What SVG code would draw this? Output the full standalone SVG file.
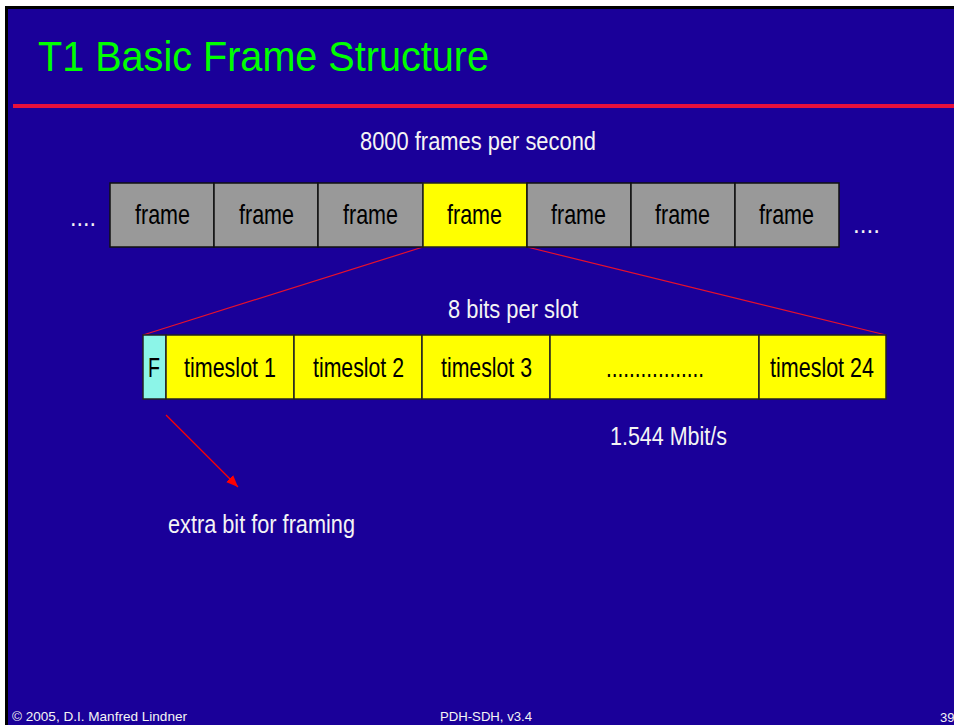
<svg xmlns="http://www.w3.org/2000/svg" width="954" height="725" viewBox="0 0 954 725">
  <style>
    text { font-family: "Liberation Sans", Arial, sans-serif; }
    .lbl { fill: #000000; font-size: 28px; }
    .wt { fill: #F4F4F4; font-size: 26px; }
    .foot { fill: #F4F4F4; font-size: 13px; }
    .gray { fill: #999999; stroke: #111111; stroke-width: 1.5; }
    .yel { fill: #FFFF00; stroke: #222222; stroke-width: 1.5; }
    .cyan { fill: #8CF5E8; stroke: #222222; stroke-width: 1.5; }
    .red { stroke: #E8102C; stroke-width: 1.2; fill: none; }
  </style>
  <defs>
    <marker id="arrowHead" viewBox="0 0 12 10" refX="12" refY="5" markerWidth="12" markerHeight="10" markerUnits="userSpaceOnUse" orient="auto">
      <path d="M0,0 L12,5 L0,10 z" fill="#FF0000"/>
    </marker>
  </defs>

  <!-- slide background -->
  <rect x="0" y="0" width="954" height="725" fill="#FFFFFF"/>
  <rect x="5" y="6" width="949" height="719" fill="#000000"/>
  <rect x="8" y="9" width="946" height="716" fill="#1A0099"/>

  <!-- title -->
  <text x="38" y="71" font-size="43" fill="#00FF00" textLength="451" lengthAdjust="spacingAndGlyphs">T1 Basic Frame Structure</text>
  <rect x="13" y="104" width="941" height="4" fill="#E8103C"/>

  <text class="wt" x="360" y="150" textLength="236" lengthAdjust="spacingAndGlyphs">8000 frames per second</text>

  <!-- connectors: zoom lines and framing-bit arrow -->
  <g id="connectors">
    <line class="red" x1="423" y1="247" x2="143" y2="335"/>
    <line class="red" x1="527" y1="247" x2="886" y2="335"/>
    <line x1="166" y1="415" x2="238" y2="487" stroke="#FF0000" stroke-width="1.2" marker-end="url(#arrowHead)"/>
  </g>

  <!-- frame sequence -->
  <g id="frames">
    <text class="wt" x="70" y="226" textLength="26" lengthAdjust="spacingAndGlyphs">....</text>
    <g id="frame1"><rect class="gray" x="110" y="183" width="104" height="64"/><text class="lbl" x="135" y="224" textLength="55" lengthAdjust="spacingAndGlyphs">frame</text></g>
    <g id="frame2"><rect class="gray" x="214" y="183" width="104" height="64"/><text class="lbl" x="239" y="224" textLength="55" lengthAdjust="spacingAndGlyphs">frame</text></g>
    <g id="frame3"><rect class="gray" x="318" y="183" width="105" height="64"/><text class="lbl" x="343" y="224" textLength="55" lengthAdjust="spacingAndGlyphs">frame</text></g>
    <g id="frame4"><rect class="yel" x="423" y="183" width="104" height="64"/><text class="lbl" x="447" y="224" textLength="55" lengthAdjust="spacingAndGlyphs">frame</text></g>
    <g id="frame5"><rect class="gray" x="527" y="183" width="104" height="64"/><text class="lbl" x="551" y="224" textLength="55" lengthAdjust="spacingAndGlyphs">frame</text></g>
    <g id="frame6"><rect class="gray" x="631" y="183" width="104" height="64"/><text class="lbl" x="655" y="224" textLength="55" lengthAdjust="spacingAndGlyphs">frame</text></g>
    <g id="frame7"><rect class="gray" x="735" y="183" width="104" height="64"/><text class="lbl" x="759" y="224" textLength="55" lengthAdjust="spacingAndGlyphs">frame</text></g>
    <text class="wt" x="853" y="233" textLength="27" lengthAdjust="spacingAndGlyphs">....</text>
  </g>

  <text class="wt" x="448" y="318" textLength="130" lengthAdjust="spacingAndGlyphs">8 bits per slot</text>

  <!-- one frame expanded into timeslots -->
  <g id="slots">
    <g id="slotF"><rect class="cyan" x="143" y="335" width="23" height="64"/><text class="lbl" x="148" y="377" textLength="12" lengthAdjust="spacingAndGlyphs">F</text></g>
    <g id="slot1"><rect class="yel" x="166" y="335" width="128" height="64"/><text class="lbl" x="184" y="377" textLength="92" lengthAdjust="spacingAndGlyphs">timeslot 1</text></g>
    <g id="slot2"><rect class="yel" x="294" y="335" width="128" height="64"/><text class="lbl" x="313" y="377" textLength="91" lengthAdjust="spacingAndGlyphs">timeslot 2</text></g>
    <g id="slot3"><rect class="yel" x="422" y="335" width="128" height="64"/><text class="lbl" x="441" y="377" textLength="91" lengthAdjust="spacingAndGlyphs">timeslot 3</text></g>
    <g id="slotDots"><rect class="yel" x="550" y="335" width="209" height="64"/><text class="lbl" x="606" y="377" textLength="98" lengthAdjust="spacingAndGlyphs">.................</text></g>
    <g id="slot24"><rect class="yel" x="759" y="335" width="127" height="64"/><text class="lbl" x="770" y="377" textLength="104" lengthAdjust="spacingAndGlyphs">timeslot 24</text></g>
  </g>

  <text class="wt" x="610" y="445" textLength="117" lengthAdjust="spacingAndGlyphs">1.544 Mbit/s</text>
  <text class="wt" x="168" y="533" textLength="187" lengthAdjust="spacingAndGlyphs">extra bit for framing</text>

  <!-- footer -->
  <text class="foot" x="12" y="721" textLength="175" lengthAdjust="spacingAndGlyphs">© 2005, D.I. Manfred Lindner</text>
  <text class="foot" x="440" y="721" textLength="92" lengthAdjust="spacingAndGlyphs">PDH-SDH, v3.4</text>
  <text class="foot" x="940" y="722" font-size="15">39</text>
</svg>
